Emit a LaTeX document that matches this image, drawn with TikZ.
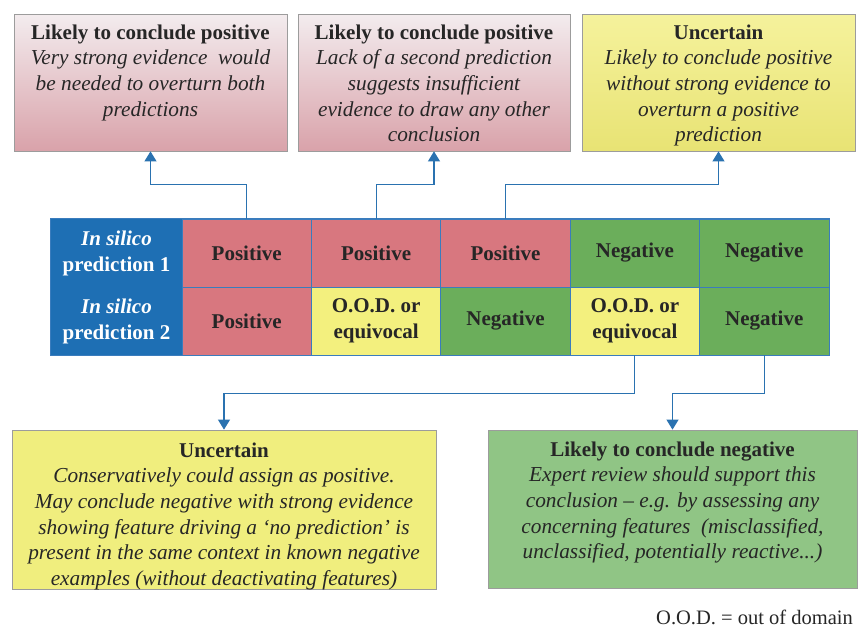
\documentclass[tikz,border=0pt]{standalone}
\usepackage{fontspec}
\setmainfont{Liberation Serif}
\usetikzlibrary{arrows.meta}
\definecolor{pinkcell}{HTML}{D8777F}
\definecolor{greencell}{HTML}{6BAE5B}
\definecolor{yellowcell}{HTML}{F3F07E}
\definecolor{bluehead}{HTML}{1E6FB4}
\definecolor{gridblue}{HTML}{3A7CBD}
\definecolor{connblue}{HTML}{2A72B0}
\definecolor{txt}{HTML}{262626}
\definecolor{pinktop}{HTML}{F3ECEE}
\definecolor{pinkbot}{HTML}{D9A2AA}
\definecolor{yeltop}{HTML}{F5F29C}
\definecolor{yelbot}{HTML}{E8E374}
\definecolor{boxyellow}{HTML}{F0EE7E}
\definecolor{boxgreen}{HTML}{90C585}
\definecolor{boxedge}{HTML}{9C9C9C}
\begin{document}
\begin{tikzpicture}[x=1pt,y=-1pt,
  cell/.style={draw=gridblue, line width=0.9pt, minimum width=129.4pt, minimum height=68pt,
    inner sep=0pt, font=\fontsize{21}{26}\selectfont\bfseries, text=txt, align=center},
  headcell/.style={cell, fill=bluehead, draw=bluehead, text=white, minimum width=131pt},
  poscell/.style={cell, fill=pinkcell},
  negcell/.style={cell, fill=greencell},
  oodcell/.style={cell, fill=yellowcell},
  outbox/.style={draw=boxedge, line width=0.8pt, inner sep=0pt},
  pinkbox/.style={outbox, top color=pinktop, bottom color=pinkbot},
  yelbox/.style={outbox, top color=yeltop, bottom color=yelbot},
  flatyel/.style={outbox, fill=boxyellow},
  flatgreen/.style={outbox, fill=boxgreen},
  boxtext/.style={anchor=north, align=center, inner sep=0pt, text=txt,
    font=\fontsize{21.3}{25.6}\selectfont\itshape},
  conn/.style={draw=connblue, line width=1.1pt, -{Triangle[width=12pt,length=10pt]}}
]
\useasboundingbox (0,0) rectangle (862,629);
\fill[white] (0,0) rectangle (862,629);

% table
\node[headcell] (h1) at (116.5,253) {\textit{In silico}\\prediction 1};
\node[headcell] (h2) at (116.5,321) {\textit{In silico}\\prediction 2};
\node[poscell] (c11) at (246.7,253) {Positive};
\node[poscell] (c12) at (376.1,253) {Positive};
\node[poscell] (c13) at (505.5,253) {Positive};
\node[negcell] (c14) at (634.9,253) {Negative};
\node[negcell] (c15) at (764.3,253) {Negative};
\node[poscell] (c21) at (246.7,321) {Positive};
\node[oodcell] (c22) at (376.1,321) {O.O.D. or\\equivocal};
\node[negcell] (c23) at (505.5,321) {Negative};
\node[oodcell] (c24) at (634.9,321) {O.O.D. or\\equivocal};
\node[negcell] (c25) at (764.3,321) {Negative};
\draw[gridblue, line width=0.9pt] (h1.north west) rectangle (c25.south east);

% outcome boxes
\node[pinkbox, minimum width=273pt, minimum height=137pt] (b1) at (150.5,82.5) {};
\node[pinkbox, minimum width=272pt, minimum height=137pt] (b2) at (434,82.5) {};
\node[yelbox, minimum width=273pt, minimum height=137pt] (b3) at (718.5,82.5) {};
\node[flatyel, minimum width=424pt, minimum height=159pt] (b4) at (224,509.5) {};
\node[flatgreen, minimum width=369pt, minimum height=158pt] (b5) at (672.5,509) {};

\node[boxtext] (t1) at (150.5,24.5) {{\bfseries\upshape\fontsize{21}{26}\selectfont Likely to conclude positive}\\
  Very strong evidence\ \ would\\ be needed to overturn both\\ predictions};
\node[boxtext] (t2) at (434,24.5) {{\bfseries\upshape\fontsize{21}{26}\selectfont Likely to conclude positive}\\
  Lack of a second prediction\\ suggests insufficient\\ evidence to draw any other\\ conclusion};
\node[boxtext] (t3) at (718.5,24.5) {{\bfseries\upshape\fontsize{21}{26}\selectfont Uncertain}\\
  Likely to conclude positive\\ without strong evidence to\\ overturn a positive\\ prediction};
\node[boxtext] (t4) at (224,442.5) {{\bfseries\upshape\fontsize{21}{26}\selectfont Uncertain}\\
  Conservatively could assign as positive.\\ May conclude negative with strong evidence\\
  showing feature driving a ‘no prediction’ is\\ present in the same context in known negative\\
  examples (without deactivating features)};
\node[boxtext] (t5) at (672.5,441.5) {{\bfseries\upshape\fontsize{21}{26}\selectfont Likely to conclude negative}\\
  Expert review should support this\\ conclusion – e.g. by assessing any\\
  concerning features\ \ (misclassified,\\ unclassified, potentially reactive...)};

% connectors
\draw[conn] (c11.north) -- ++(0,-34) -| (b1.south);
\draw[conn] (c12.north) -- ++(0,-34) -| (b2.south);
\draw[conn] (c13.north) -- ++(0,-34) -| (b3.south);
\draw[conn] (c24.south) -- ++(0,38) -| (b4.north);
\draw[conn] (c25.south) -- ++(0,38) -| (b5.north);

% footnote
\node[anchor=base west, inner sep=0pt, text=txt, font=\fontsize{20.5}{24}\selectfont] (fn) at (656,624) {O.O.D. = out of domain};
\end{tikzpicture}
\end{document}
